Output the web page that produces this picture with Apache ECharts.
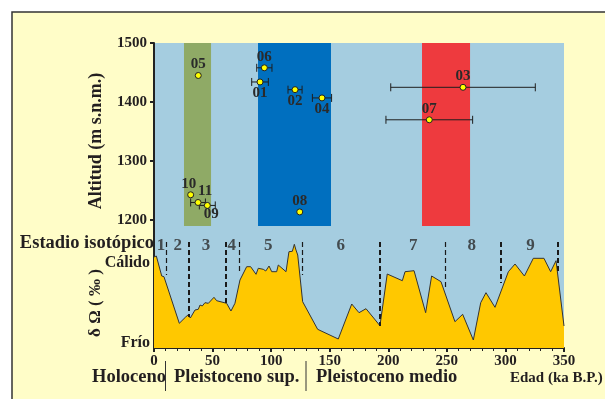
<!DOCTYPE html>
<html><head><meta charset="utf-8">
<script src="https://cdn.jsdelivr.net/npm/echarts@6/dist/echarts.min.js"></script>
<style>html,body{margin:0;padding:0;background:#fff}#c{width:605px;height:399px}</style>
</head><body><div id="c"></div>
<script>
// ---- data ----
const sampleNames = ['01','02','03','04','05','06','07','08','09','10','11'];
const sampleAge   = [90.5,120.4,263.8,143.4,37.8,94.2,235,124.4,45.5,31.3,37.6];
const sampleAlt   = [1434,1421,1425,1407,1445,1458,1370,1214,1225,1243,1230];
const sampleAgeErr= [7.1,6,61.7,8.2,0,6.5,37,0,6.8,0,6.3];

const bandStart = [25.6, 88.8, 228.8];
const bandEnd   = [48.7, 151.1, 269.8];
const bandTopAlt = 1500, bandBottomAlt = 1190;

const altTicks = [1200,1300,1400,1500];

const isoAge = [0,2,6.6,8.5,21.6,27,29,31,35,37.8,39.3,41.2,43.5,46.4,51.2,53.5,54.9,62,65.7,69.1,73.4,79.1,82.5,87.1,89,93.3,95.4,98.2,100.5,104.7,106.1,112.7,115.2,118.1,119.8,121.2,122.7,126.9,139.7,157.3,168.8,175,181,192.9,199.1,212,214.3,222,231.9,237,245,256.9,263.5,272.6,278.9,283.4,291.1,302.5,308.2,316.2,323.8,332.9,338.6,343.2,350];
const isoVal = [91,92,72,71.3,24.7,31,33,30,38,38.7,43,42,45.3,44.7,50.7,47.3,45.3,44.7,37,44.7,68,81.3,81.3,73.7,79.7,78.7,77,82,76.3,76.3,83,76.3,96.3,96.7,103.7,98,93,46.3,18.7,9,44,35.3,39.3,22.3,74,67.3,76.3,77.3,35.3,72,66.3,26.3,33.7,8,45.3,55.3,40.7,76.3,84,72,89.7,89.7,76.3,87.3,22];

const stageBoundAge = [10.8,29.9,61.5,72.8,126.9,192.9,249,296,344.6];
const stageBoundEnd = [73,31,45,75,73,22,60,65,75];
const stageBoundThick = [0,1,1,0,0,1,0,1,1];
const stageNames = ['1','2','3','4','5','6','7','8','9'];
const stageLabelAge = [6,20.3,44.4,66.3,97.6,159.4,221.3,271.2,321.5];

const climateLabels = ['Frío','Cálido'];
const climateLevels = [5,85];

const periodNames = ['Holoceno','Pleistoceno sup.','Pleistoceno medio'];

// ---- styling ----
const FONT = '"Liberation Serif", "Times New Roman", serif';
const TXT = '#231F20';
const labelPlace = {
  '01':{position:'bottom',distance:0}, '02':{position:'bottom',distance:0}, '04':{position:'bottom',distance:0},
  '09':{position:'bottom',distance:-2,offset:[4,0]}, '11':{position:'top',distance:0,offset:[7,0]},
  '10':{position:'top',distance:0,offset:[-2,0]}
};

const chart = echarts.init(document.getElementById('c'));

const scatterData = sampleNames.map((n,i)=>{
  const p = labelPlace[n] || {position:'top',distance:0};
  return {name:n, value:[sampleAge[i], sampleAlt[i]],
    label:Object.assign({show:true, formatter:'{b}', fontFamily:FONT, fontWeight:'bold', fontSize:15, color:'#2a2a2a'}, p)};
});
const errData = sampleNames.map((n,i)=>[sampleAge[i], sampleAlt[i], sampleAgeErr[i]]).filter(d=>d[2]>0);

const bandColors = ['#8FAA66','#006FBF','#EE3A3E'];
const bandAreas = bandStart.map((s,i)=>[
  {xAxis:s, yAxis:bandTopAlt, itemStyle:{color:bandColors[i]}},
  {xAxis:bandEnd[i], yAxis:bandBottomAlt}
]);

const boundLines = stageBoundAge.map((a,i)=>[
  {coord:[a,106], lineStyle:{width: stageBoundThick[i]?2:1.2, type:[5,3], color:'#1a1a1a'}},
  {coord:[a,stageBoundEnd[i]]}
]);

const option = {
  animation:false,
  backgroundColor:'#ffffff',
  graphic:[
    {type:'rect', z:-10, shape:{x:12,y:12,width:600,height:400}, style:{fill:'#FFFDC8', stroke:'#333', lineWidth:1.5}},
    {type:'text', x:96, y:141, rotation:Math.PI/2, style:{text:'Altitud (m s.n.m.)', font:'bold 18px '+FONT, fill:TXT, align:'center', verticalAlign:'middle'}},
    {type:'text', x:96, y:303, rotation:Math.PI/2, style:{text:'δ Ω ( ‰ )', font:'bold 17px '+FONT, fill:TXT, align:'center', verticalAlign:'middle'}},
    {type:'text', x:154, y:243, style:{text:'Estadio isotópico', font:'bold 18.5px '+FONT, fill:TXT, align:'right', verticalAlign:'middle'}},
    {type:'text', x:92, y:377, style:{text:periodNames[0], font:'bold 18.5px '+FONT, fill:TXT, align:'left', verticalAlign:'middle'}},
    {type:'text', x:174, y:377, style:{text:periodNames[1], font:'bold 18.5px '+FONT, fill:TXT, align:'left', verticalAlign:'middle'}},
    {type:'text', x:316, y:377, style:{text:periodNames[2], font:'bold 18.5px '+FONT, fill:TXT, align:'left', verticalAlign:'middle'}},
    {type:'text', x:510, y:378, style:{text:'Edad (ka B.P.)', font:'bold 15px '+FONT, fill:TXT, align:'left', verticalAlign:'middle'}},
    {type:'line', shape:{x1:165.5,y1:361,x2:165.5,y2:391}, style:{stroke:'#333', lineWidth:1}},
    {type:'line', shape:{x1:306,y1:361,x2:306,y2:391}, style:{stroke:'#333', lineWidth:1}}
  ],
  grid:[
    {left:154, top:43, width:410, height:189, show:true, backgroundColor:'#A5CDE0', borderWidth:0},
    {left:154, top:232, width:410, height:116, show:true, backgroundColor:'#A5CDE0', borderWidth:0}
  ],
  xAxis:[
    {gridIndex:0, type:'value', min:0, max:350, show:false},
    {gridIndex:1, type:'value', min:0, max:350, interval:50,
      axisLine:{show:true, onZero:false, lineStyle:{color:'#222', width:2}},
      axisTick:{show:true, length:4, lineStyle:{color:'#222', width:2}},
      minorTick:{show:true, splitNumber:5, length:3, lineStyle:{color:'#222', width:1}},
      splitLine:{show:false},
      axisLabel:{margin:6, fontFamily:FONT, fontWeight:'bold', fontSize:15, color:TXT, formatter:v=>String(v)}}
  ],
  yAxis:[
    {gridIndex:0, type:'value', min:1180, max:1500,
      axisLine:{show:true, onZero:false, lineStyle:{color:'#222', width:2}},
      axisTick:{show:true, length:4, customValues:altTicks, lineStyle:{color:'#222', width:2}},
      axisLabel:{customValues:altTicks, margin:7, fontFamily:FONT, fontWeight:'bold', fontSize:15, color:TXT, formatter:v=>String(v)},
      splitLine:{show:false}},
    {gridIndex:1, type:'value', min:0, max:116,
      axisLine:{show:true, onZero:false, lineStyle:{color:'#222', width:2}},
      axisTick:{show:false},
      axisLabel:{customValues:climateLevels, margin:4, fontFamily:FONT, fontWeight:'bold', fontSize:16, color:TXT,
        formatter:v=>climateLabels[climateLevels.indexOf(v)]},
      splitLine:{show:false}}
  ],
  series:[
    {type:'line', xAxisIndex:0, yAxisIndex:0, data:[], z:1, silent:true,
      markArea:{silent:true, data:bandAreas}},
    {type:'custom', xAxisIndex:0, yAxisIndex:0, z:2, data:errData, silent:true,
      renderItem:(params, api)=>{
        const a=api.value(0), h=api.value(1), e=api.value(2);
        const p1=api.coord([a-e,h]), p2=api.coord([a+e,h]);
        const st={stroke:'#1e1e1e', lineWidth:1};
        return {type:'group', children:[
          {type:'line', shape:{x1:p1[0],y1:p1[1],x2:p2[0],y2:p2[1]}, style:st},
          {type:'line', shape:{x1:p1[0],y1:p1[1]-4,x2:p1[0],y2:p1[1]+4}, style:st},
          {type:'line', shape:{x1:p2[0],y1:p2[1]-4,x2:p2[0],y2:p2[1]+4}, style:st}
        ]};
      }},
    {type:'scatter', xAxisIndex:0, yAxisIndex:0, z:3, symbol:'circle', symbolSize:6,
      itemStyle:{color:'#FFFF00', borderColor:'#222', borderWidth:1, opacity:1},
      data:scatterData},
    {type:'line', xAxisIndex:1, yAxisIndex:1, z:2, symbol:'none',
      data:isoAge.map((a,i)=>[a, isoVal[i]]),
      lineStyle:{color:'#333', width:1},
      areaStyle:{color:'#FFC800', opacity:1, origin:'start'},
      markLine:{silent:true, symbol:['none','none'], label:{show:false}, data:boundLines}},
    {type:'scatter', xAxisIndex:1, yAxisIndex:1, z:4, symbolSize:0, silent:true,
      data:stageNames.map((n,i)=>({name:n, value:[stageLabelAge[i],102]})),
      label:{show:true, position:'inside', formatter:'{b}', fontFamily:FONT, fontWeight:'bold', fontSize:17, color:'#2a2a2a'}}
  ]
};
chart.setOption(option);
</script></body></html>
